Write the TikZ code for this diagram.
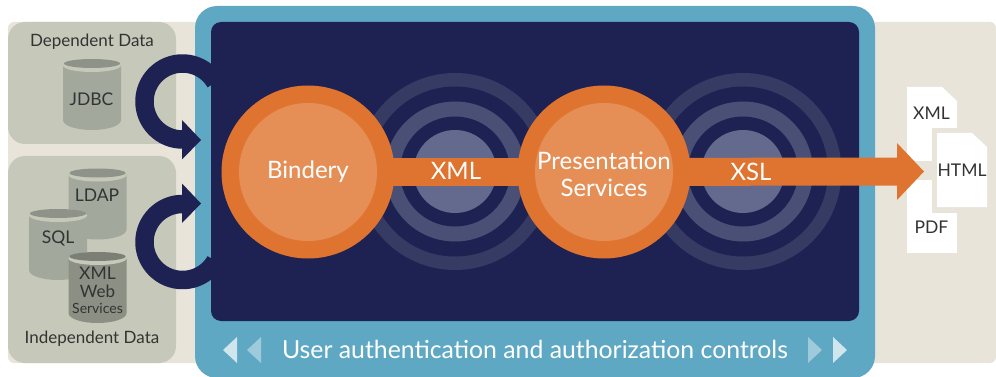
\documentclass[tikz,border=0pt]{standalone}
\usepackage{fontspec}
\setmainfont{Lato}
\definecolor{beige}{HTML}{E8E4DA}
\definecolor{boxgray}{HTML}{C6C8B9}
\definecolor{cylbody}{HTML}{A3A89C}
\definecolor{cyltop}{HTML}{8E9389}
\definecolor{cyldark}{HTML}{8B8F84}
\definecolor{cyldarktop}{HTML}{7B7F75}
\definecolor{steel}{HTML}{5FA8C4}
\definecolor{navy}{HTML}{1E2252}
\definecolor{orange1}{HTML}{DF7430}
\definecolor{orange2}{HTML}{E58F57}
\definecolor{ringa}{HTML}{636A8E}
\definecolor{ringb}{HTML}{4A5075}
\definecolor{ringc}{HTML}{353B63}
\definecolor{ink}{HTML}{333333}
\definecolor{tria}{HTML}{CFE6EF}
\definecolor{trib}{HTML}{9FCADB}
\newcommand{\cylinder}[4]{% x left, y top, body, top
  \fill[#3] (#1,#2+6) -- (#1+58,#2+6) -- (#1+58,#2+61)
     .. controls (#1+58,#2+67) and (#1+44,#2+71) .. (#1+29,#2+71)
     .. controls (#1+14,#2+71) and (#1,#2+67) .. (#1,#2+61) -- cycle;
  \fill[boxgray] (#1+29,#2+6.5) ellipse [x radius=29pt,y radius=6.5pt];
  \fill[#4] (#1+29,#2+4.5) ellipse [x radius=28pt,y radius=4.5pt];
}
\newcommand{\rings}[2]{% centre x, y
  \fill[ringc] (#1,#2) circle [radius=98.5pt];
  \fill[navy]  (#1,#2) circle [radius=85pt];
  \fill[ringb] (#1,#2) circle [radius=70pt];
  \fill[navy]  (#1,#2) circle [radius=55pt];
  \fill[ringa] (#1,#2) circle [radius=41.5pt];
}
\tikzset{
  lbl/.style={text=ink,font=\fontsize{17}{19}\selectfont,inner sep=0pt,align=center},
  cyllbl/.style={text=ink,font=\fontsize{17.5}{19}\selectfont,inner sep=0pt,align=center},
  big/.style={text=white,font=\fontsize{24}{27}\selectfont,inner sep=0pt,align=center},
  outerdisc/.style={circle,fill=orange1,inner sep=0pt,outer sep=0pt,minimum size=173pt},
  innerdisc/.style={circle,fill=orange2,inner sep=0pt,outer sep=0pt,minimum size=138pt},
  loopline/.style={draw=navy,line width=18.5pt},
  doc/.style={fill=white},
}
\begin{document}
\begin{tikzpicture}[x=1pt,y=-1pt]
\useasboundingbox (0,0) rectangle (996,377);
% backgrounds
\fill[beige,rounded corners=6pt] (8,22) rectangle (996,363);
\fill[boxgray,rounded corners=17pt] (8,22) rectangle (176,144);
\fill[boxgray,rounded corners=17pt] (8,156) rectangle (176,363);
\fill[steel,rounded corners=22pt] (195,6) rectangle (875,378);
\fill[navy,rounded corners=10pt] (211,22) rectangle (859,321);
% cylinders
\cylinder{63}{59}{cylbody}{cyltop}
\cylinder{68.5}{168.5}{cylbody}{cyltop}
\cylinder{29}{209}{cylbody}{cyltop}
\cylinder{68.5}{252}{cyldark}{cyldarktop}
\node[lbl] (dep) at (92,42) {Dependent Data};
\node[lbl] (ind) at (92,339) {Independent Data};
\node[cyllbl] (jdbc) at (91.5,99) {JDBC};
\node[cyllbl] (ldap) at (97,195) {LDAP};
\node[cyllbl] (sql) at (58,238) {SQL};
\node[cyllbl] (xmlc) at (97.5,273) {XML};
\node[text=ink,font=\fontsize{17}{16}\selectfont,inner sep=0pt,align=center] (web) at (97.5,299) {Web\\{\fontsize{14}{15}\selectfont Services}};
% loops
\coordinate (tipa) at (201,140);
\coordinate (tipb) at (201,203.5);
\draw[loopline] plot[domain=30:270,samples=70] ({182.5+38*cos(\x)},{101.5-38*sin(\x)});
\fill[navy] (tipa) -- ++(-19,-20) -- ++(0,39.5) -- cycle;
\draw[loopline] plot[domain=330:90,samples=70] ({182.5+38*cos(\x)},{242-38*sin(\x)});
\fill[navy] (tipb) -- ++(-19,-20) -- ++(0,39.5) -- cycle;
% rings
\rings{455}{171.5}
\rings{743}{171.5}
% documents
\fill[doc] (907,87) -- (942,87) -- (957,101) -- (957,161) -- (907,161) -- cycle;
\fill[doc] (907,180) -- (957,180) -- (957,253) -- (907,253) -- cycle;
\fill[beige] (932,128) rectangle (992,212.5);
\fill[doc] (937,133) -- (972,133) -- (987,147) -- (987,207) -- (937,207) -- cycle;
\node[cyllbl] (xmld) at (931.5,113) {XML};
\node[cyllbl] (html) at (962,170) {HTML};
\node[cyllbl] (pdf) at (931.5,227) {PDF};
% flow
\coordinate (headbase) at (897,171.5);
\node[outerdisc] (bindout) at (308,172) {};
\node[outerdisc] (presout) at (604,172) {};
\draw[orange1,line width=28pt] (bindout.center) -- (presout.center);
\draw[orange1,line width=28pt] (presout.center) -- (headbase);
\fill[orange1] (headbase) ++(0,-28.5) -- ++(27,28.5) -- ++(-27,28.5) -- cycle;
\node[innerdisc] (bindery) at (bindout.center) {};
\node[innerdisc] (pres) at (presout.center) {};
\node[big] (bindt) at (308,172) {Bindery};
\node[big] (prest) at (604,174) {Presentation\\Services};
\node[big] (xmlt) at (456,171) {XML};
\node[big] (xslt) at (751,172) {XSL};
% bottom band
\node[text=white,font=\fontsize{24.8}{27}\selectfont,inner sep=0pt] (auth) at (535,349) {User authentication and authorization controls};
\fill[tria] (223,350) -- (237,337) -- (237,363) -- cycle;
\fill[trib] (247,350) -- (261,337) -- (261,363) -- cycle;
\fill[trib] (822,350) -- (808,337) -- (808,363) -- cycle;
\fill[tria] (847,350) -- (833,337) -- (833,363) -- cycle;
\end{tikzpicture}
\end{document}
